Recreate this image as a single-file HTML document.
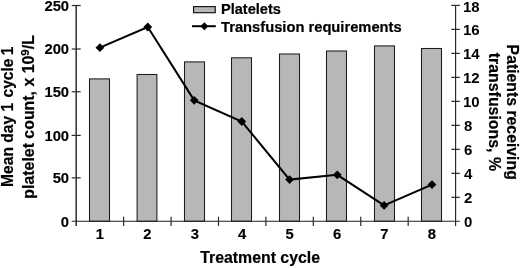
<!DOCTYPE html>
<html lang="en"><head><meta charset="utf-8"><title>Chart</title>
<style>html,body{margin:0;padding:0;background:#fff}svg{display:block;will-change:transform}text{font-family:"Liberation Sans",Arial,Helvetica,sans-serif;font-weight:bold;fill:#000}.t{stroke:#000;stroke-width:0.2px}</style></head><body>
<svg width="520" height="268" viewBox="0 0 520 268">
<rect width="520" height="268" fill="#fff"/>
<rect x="89.50" y="78.90" width="20" height="142.40" fill="#b7b7b7" stroke="#1c1c1c" stroke-width="1.05"/>
<rect x="137.09" y="74.50" width="19.8" height="146.80" fill="#b7b7b7" stroke="#1c1c1c" stroke-width="1.05"/>
<rect x="184.50" y="61.90" width="20" height="159.40" fill="#b7b7b7" stroke="#1c1c1c" stroke-width="1.05"/>
<rect x="231.50" y="57.80" width="20" height="163.50" fill="#b7b7b7" stroke="#1c1c1c" stroke-width="1.05"/>
<rect x="279.50" y="54.00" width="20" height="167.30" fill="#b7b7b7" stroke="#1c1c1c" stroke-width="1.05"/>
<rect x="326.50" y="51.00" width="20" height="170.30" fill="#b7b7b7" stroke="#1c1c1c" stroke-width="1.05"/>
<rect x="374.50" y="45.90" width="20" height="175.40" fill="#b7b7b7" stroke="#1c1c1c" stroke-width="1.05"/>
<rect x="421.50" y="48.50" width="20" height="172.80" fill="#b7b7b7" stroke="#1c1c1c" stroke-width="1.05"/>
<path d="M76.2 5.4V225.9" stroke="#3a3a3a" stroke-width="1.6" fill="none"/>
<path d="M455.6 5.4V225.9" stroke="#222" stroke-width="1.15" fill="none"/>
<path d="M71.7 221.3H459.90000000000003" stroke="#222" stroke-width="1.1" fill="none"/>
<g stroke="#2a2a2a" stroke-width="1.2" fill="none">
<path d="M71.7 177.85H80.7"/>
<path d="M71.7 135.40H80.7"/>
<path d="M71.7 91.76H80.7"/>
<path d="M71.7 49.00H80.7"/>
<path d="M71.7 5.50H80.7"/>
<path d="M451.3 197.31H459.90000000000003"/>
<path d="M451.3 173.32H459.90000000000003"/>
<path d="M451.3 149.33H459.90000000000003"/>
<path d="M451.3 125.34H459.90000000000003"/>
<path d="M451.3 101.36H459.90000000000003"/>
<path d="M451.3 77.37H459.90000000000003"/>
<path d="M451.3 53.38H459.90000000000003"/>
<path d="M451.3 29.39H459.90000000000003"/>
<path d="M451.3 5.40H459.90000000000003"/>
<path d="M123.62 216.70000000000002V225.9"/>
<path d="M171.05 216.70000000000002V225.9"/>
<path d="M218.48 216.70000000000002V225.9"/>
<path d="M265.90 216.70000000000002V225.9"/>
<path d="M313.33 216.70000000000002V225.9"/>
<path d="M360.75 216.70000000000002V225.9"/>
<path d="M408.18 216.70000000000002V225.9"/>
</g>
<polyline fill="none" stroke="#000" stroke-width="2" points="99.9,47.65 147.75,27.0 194.2,100.35 241.8,121.5 289.6,179.6 337.25,174.8 384.1,205.45 432,184.6"/>
<path d="M99.9 43.25L104.30000000000001 47.65L99.9 52.05L95.5 47.65Z" fill="#000"/>
<path d="M147.75 22.6L152.15 27.0L147.75 31.4L143.35 27.0Z" fill="#000"/>
<path d="M194.2 95.94999999999999L198.6 100.35L194.2 104.75L189.79999999999998 100.35Z" fill="#000"/>
<path d="M241.8 117.1L246.20000000000002 121.5L241.8 125.9L237.4 121.5Z" fill="#000"/>
<path d="M289.6 175.2L294.0 179.6L289.6 184.0L285.20000000000005 179.6Z" fill="#000"/>
<path d="M337.25 170.4L341.65 174.8L337.25 179.20000000000002L332.85 174.8Z" fill="#000"/>
<path d="M384.1 201.04999999999998L388.5 205.45L384.1 209.85L379.70000000000005 205.45Z" fill="#000"/>
<path d="M432 180.2L436.4 184.6L432 189.0L427.6 184.6Z" fill="#000"/>
<text transform="translate(69.1 226.95) scale(1.065 1)" font-size="13.9" text-anchor="end" stroke="#000" stroke-width="0.15">0</text>
<text transform="translate(69.1 182.90) scale(1.065 1)" font-size="13.9" text-anchor="end" stroke="#000" stroke-width="0.15">50</text>
<text transform="translate(69.1 140.85) scale(1.065 1)" font-size="13.9" text-anchor="end" stroke="#000" stroke-width="0.15">100</text>
<text transform="translate(69.1 96.55) scale(1.065 1)" font-size="13.9" text-anchor="end" stroke="#000" stroke-width="0.15">150</text>
<text transform="translate(69.1 54.20) scale(1.065 1)" font-size="13.9" text-anchor="end" stroke="#000" stroke-width="0.15">200</text>
<text transform="translate(69.1 10.95) scale(1.065 1)" font-size="13.9" text-anchor="end" stroke="#000" stroke-width="0.15">250</text>
<text transform="translate(464.0 227.40) scale(1.065 1)" font-size="14.1">0</text>
<text transform="translate(464.0 203.41) scale(1.065 1)" font-size="14.1">2</text>
<text transform="translate(464.0 179.42) scale(1.065 1)" font-size="14.1">4</text>
<text transform="translate(464.0 155.43) scale(1.065 1)" font-size="14.1">6</text>
<text transform="translate(464.0 131.44) scale(1.065 1)" font-size="14.1">8</text>
<text transform="translate(463.0 107.46) scale(1.065 1)" font-size="14.1">10</text>
<text transform="translate(463.0 83.47) scale(1.065 1)" font-size="14.1">12</text>
<text transform="translate(463.0 59.48) scale(1.065 1)" font-size="14.1">14</text>
<text transform="translate(463.0 35.49) scale(1.065 1)" font-size="14.1">16</text>
<text transform="translate(463.0 11.50) scale(1.065 1)" font-size="14.1">18</text>
<text transform="translate(99.91 239.05) scale(1.035 1)" font-size="14.3" text-anchor="middle" stroke="#000" stroke-width="0.15">1</text>
<text transform="translate(147.34 239.05) scale(1.035 1)" font-size="14.3" text-anchor="middle" stroke="#000" stroke-width="0.15">2</text>
<text transform="translate(194.76 239.05) scale(1.035 1)" font-size="14.3" text-anchor="middle" stroke="#000" stroke-width="0.15">3</text>
<text transform="translate(242.19 239.05) scale(1.035 1)" font-size="14.3" text-anchor="middle" stroke="#000" stroke-width="0.15">4</text>
<text transform="translate(289.61 239.05) scale(1.035 1)" font-size="14.3" text-anchor="middle" stroke="#000" stroke-width="0.15">5</text>
<text transform="translate(337.04 239.05) scale(1.035 1)" font-size="14.3" text-anchor="middle" stroke="#000" stroke-width="0.15">6</text>
<text transform="translate(384.46 239.05) scale(1.035 1)" font-size="14.3" text-anchor="middle" stroke="#000" stroke-width="0.15">7</text>
<text transform="translate(431.89 239.05) scale(1.035 1)" font-size="14.3" text-anchor="middle" stroke="#000" stroke-width="0.15">8</text>
<rect x="193.55" y="6.6" width="21.7" height="6.1" fill="#b7b7b7" stroke="#111" stroke-width="1.15"/>
<path d="M192 26.2H215.8" stroke="#000" stroke-width="2"/>
<path d="M204.4 22.2L208.4 26.2L204.4 30.2L200.4 26.2Z" fill="#000"/>
<text transform="translate(220.9 14.40) scale(1.028 1)" font-size="14.2" class="t">Platelets</text>
<text transform="translate(221.0 31.55) scale(1.03 1)" font-size="14.3" class="t">Transfusion requirements</text>
<text class="t" x="260.15" y="263.4" font-size="15.85" text-anchor="middle">Treatment cycle</text>
<text class="t" transform="translate(13.15 116.75) rotate(-90) scale(1 1.035)" font-size="15.6" text-anchor="middle">Mean day 1 <tspan dx="1.1">cycle</tspan> <tspan dx="-1.1">1</tspan></text>
<text class="t" transform="translate(34.3 116.9) rotate(-90)" font-size="15.9" text-anchor="middle">platelet count, x 10<tspan font-size="11.5" dy="-5.2">9</tspan><tspan dy="5.2">/L</tspan></text>
<text class="t" transform="translate(506.9 112.2) rotate(90)" font-size="15.8" text-anchor="middle">Patients receiving</text>
<text class="t" transform="translate(489 111.9) rotate(90)" font-size="15.9" text-anchor="middle">transfusions, %</text>
</svg></body></html>
